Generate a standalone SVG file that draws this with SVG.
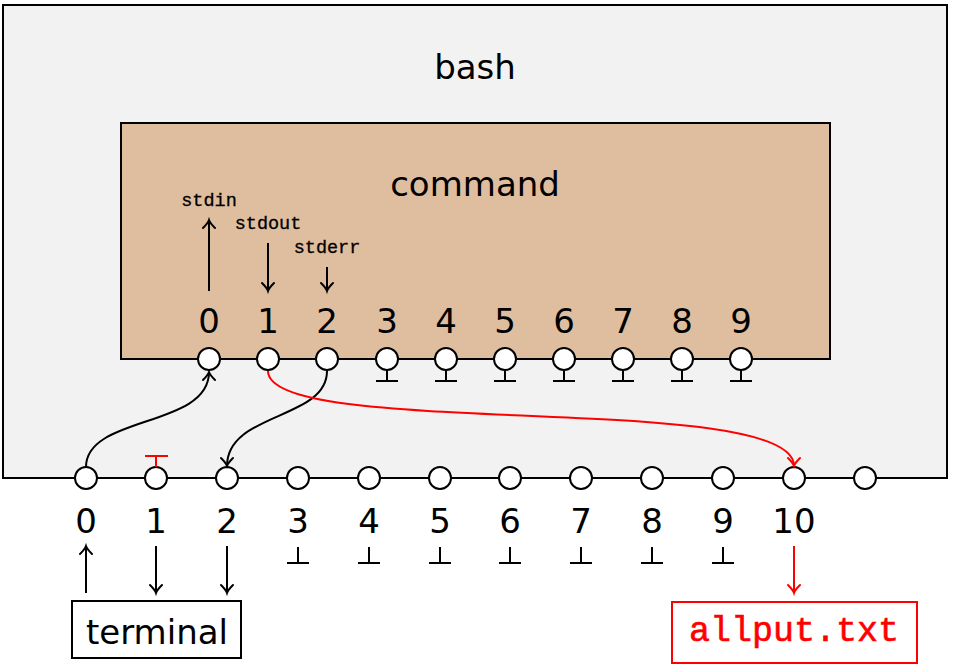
<svg xmlns="http://www.w3.org/2000/svg" width="954" height="667" viewBox="0 0 954 667">
<style>
.ln{fill:none;stroke:#000;stroke-width:2}
.rd{fill:none;stroke:#f00;stroke-width:2}
.c{fill:#fff;stroke:#000;stroke-width:2}
.dg{font-family:"DejaVu Sans",sans-serif;font-size:34px;text-anchor:middle;fill:#000}
.tt{font-family:"Liberation Mono",monospace;font-size:18.5px;text-anchor:middle;fill:#000;stroke:#000;stroke-width:0.3}
</style>
<defs>
<marker id="ah" markerUnits="userSpaceOnUse" markerWidth="20" markerHeight="20" viewBox="-12 -10 14 20" refX="0" refY="0" orient="auto">
<path d="M-8,-6 Q-3,-1 0,0 Q-3,1 -8,6" fill="none" stroke="#000" stroke-width="2" stroke-linecap="round"/>
</marker>
<marker id="ahr" markerUnits="userSpaceOnUse" markerWidth="20" markerHeight="20" viewBox="-12 -10 14 20" refX="0" refY="0" orient="auto">
<path d="M-8,-6 Q-3,-1 0,0 Q-3,1 -8,6" fill="none" stroke="#f00" stroke-width="2" stroke-linecap="round"/>
</marker>
</defs>

<g id="bash">
<rect x="3" y="5" width="944" height="473" fill="#f2f2f2" stroke="#000" stroke-width="2"/>
<text x="475" y="79" class="dg">bash</text>
</g>

<g id="command">
<rect x="121" y="123" width="709" height="236" fill="#dfbe9f" stroke="#000" stroke-width="2"/>
<text x="475" y="196" class="dg">command</text>
<text x="209" y="206" class="tt">stdin</text>
<text x="268" y="229" class="tt">stdout</text>
<text x="327" y="253" class="tt">stderr</text>
<line x1="209" y1="291" x2="209" y2="220" class="ln" marker-end="url(#ah)"/>
<line x1="268" y1="243" x2="268" y2="291" class="ln" marker-end="url(#ah)"/>
<line x1="327" y1="267" x2="327" y2="291" class="ln" marker-end="url(#ah)"/>
<g class="dg">
<text x="209" y="333">0</text><text x="268" y="333">1</text><text x="327" y="333">2</text>
<text x="387" y="333">3</text><text x="446" y="333">4</text><text x="505" y="333">5</text>
<text x="564" y="333">6</text><text x="623" y="333">7</text><text x="682" y="333">8</text>
<text x="741" y="333">9</text>
</g>
<g class="ln">
<path d="M387,371v10M376,381h22M446,371v10M435,381h22M505,371v10M494,381h22M564,371v10M553,381h22M623,371v10M612,381h22M682,371v10M671,381h22M741,371v10M730,381h22"/>
</g>
<g class="c">
<circle cx="209" cy="359" r="11"/><circle cx="268" cy="359" r="11"/><circle cx="327" cy="359" r="11"/>
<circle cx="387" cy="359" r="11"/><circle cx="446" cy="359" r="11"/><circle cx="505" cy="359" r="11"/>
<circle cx="564" cy="359" r="11"/><circle cx="623" cy="359" r="11"/><circle cx="682" cy="359" r="11"/>
<circle cx="741" cy="359" r="11"/>
</g>
</g>

<g id="bash-fds">
<g class="c">
<circle cx="86" cy="478" r="11"/><circle cx="156" cy="478" r="11"/><circle cx="227" cy="478" r="11"/>
<circle cx="298" cy="478" r="11"/><circle cx="369" cy="478" r="11"/><circle cx="440" cy="478" r="11"/>
<circle cx="510" cy="478" r="11"/><circle cx="581" cy="478" r="11"/><circle cx="652" cy="478" r="11"/>
<circle cx="723" cy="478" r="11"/><circle cx="794" cy="478" r="11"/><circle cx="865" cy="478" r="11"/>
</g>
<path d="M156,467v-11M145,456h23" class="rd"/>
<g class="dg">
<text x="86" y="533">0</text><text x="156" y="533">1</text><text x="227" y="533">2</text>
<text x="298" y="533">3</text><text x="369" y="533">4</text><text x="440" y="533">5</text>
<text x="510" y="533">6</text><text x="581" y="533">7</text><text x="652" y="533">8</text>
<text x="723" y="533">9</text><text x="794" y="533">10</text>
</g>
<path class="ln" d="M298,547v16M287,563h22M369,547v16M358,563h22M440,547v16M429,563h22M510,547v16M499,563h22M581,547v16M570,563h22M652,547v16M641,563h22M723,547v16M712,563h22"/>
</g>

<g id="terminal">
<rect x="72" y="601" width="169" height="57" fill="#fff" stroke="#000" stroke-width="2"/>
<text x="157" y="644" class="dg">terminal</text>
</g>

<g id="allput">
<rect x="672" y="602" width="245" height="61" fill="#fff" stroke="#f00" stroke-width="2"/>
<text x="794" y="641" font-family="Liberation Mono,monospace" font-size="35" text-anchor="middle" fill="#f00" stroke="#f00" stroke-width="0.6">allput.txt</text>
</g>

<g id="connectors">
<path class="ln" d="M86,467 C86,415 209,428 209,372" marker-end="url(#ah)"/>
<path class="ln" d="M327,371 C327,420 227,412 227,466" marker-end="url(#ah)"/>
<path class="rd" d="M268,371 C268,440 794,390 794,466" marker-end="url(#ahr)"/>
<line x1="86" y1="593" x2="86" y2="546" class="ln" marker-end="url(#ah)"/>
<line x1="156" y1="546" x2="156" y2="593" class="ln" marker-end="url(#ah)"/>
<line x1="227" y1="546" x2="227" y2="593" class="ln" marker-end="url(#ah)"/>
<line x1="794" y1="546" x2="794" y2="593" class="rd" marker-end="url(#ahr)"/>
</g>
</svg>
